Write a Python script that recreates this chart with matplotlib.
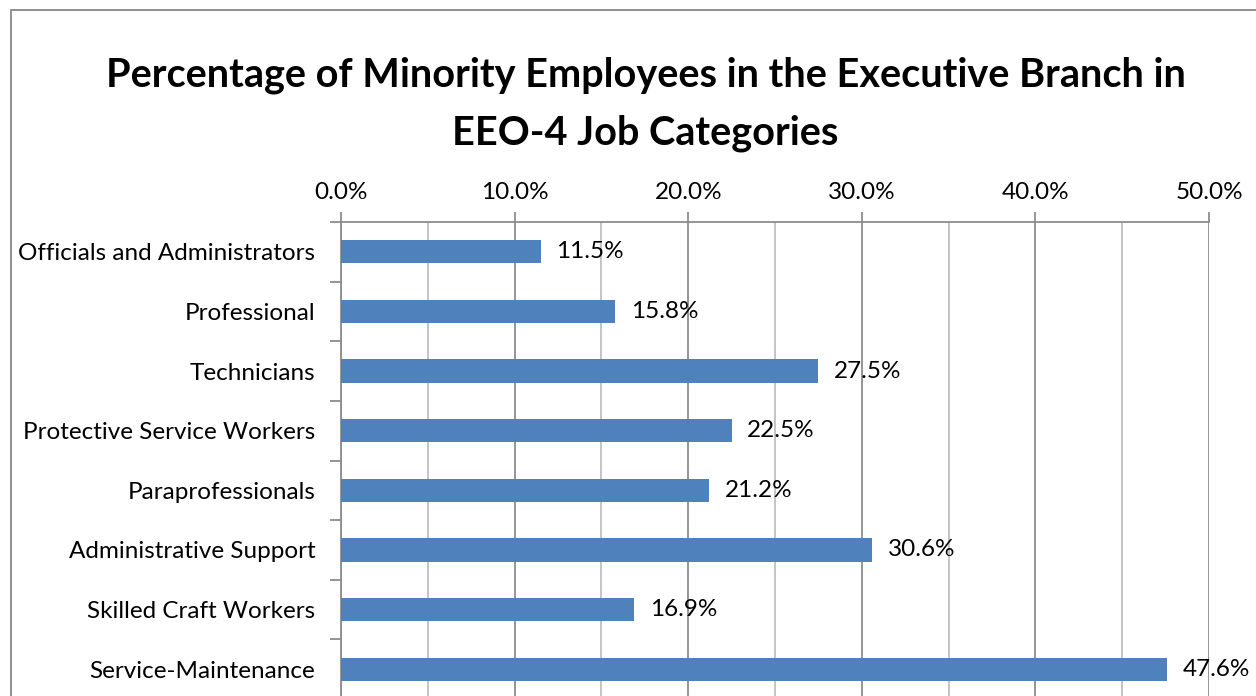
import matplotlib.pyplot as plt
from matplotlib.patches import Rectangle
from matplotlib.ticker import MultipleLocator, FuncFormatter

categories = [
    "Officials and Administrators",
    "Professional",
    "Technicians",
    "Protective Service Workers",
    "Paraprofessionals",
    "Administrative Support",
    "Skilled Craft Workers",
    "Service-Maintenance",
]
minority_pct = [11.5, 15.8, 27.5, 22.5, 21.2, 30.6, 16.9, 47.6]
title = "Percentage of Minority Employees in the Executive Branch in\nEEO-4 Job Categories"

plt.rcParams['font.family'] = ['Lato', 'DejaVu Sans']

W, H = 1256, 696
fig = plt.figure(figsize=(W / 100, H / 100), dpi=100)

# chart frame running off the right and bottom edge
fig.patches.append(Rectangle((11 / W, -0.1), 1.2, 1 - 10 / H + 0.1,
                             transform=fig.transFigure, fill=False,
                             edgecolor='#888888', linewidth=1.3))

left, right, top, bottom = 341, 1209, 222, 699
ax = fig.add_axes([left / W, 1 - bottom / H, (right - left) / W, (bottom - top) / H])

fs = 17.5
y = list(range(len(categories)))
ax.barh(y, minority_pct, height=0.39, color='#4F81BD', zorder=3)
for yi, v in zip(y, minority_pct):
    ax.text(v + 0.9, yi, f"{v:.1f}%", va='center', ha='left', fontsize=fs, zorder=4)

ax.set_xlim(0, 50)
ax.set_ylim(len(categories) - 0.5, -0.5)
ax.xaxis.tick_top()
ax.xaxis.set_major_locator(MultipleLocator(10))
ax.xaxis.set_minor_locator(MultipleLocator(5))
ax.xaxis.set_major_formatter(FuncFormatter(lambda x, p: f"{x:.1f}%"))
ax.grid(axis='x', which='major', color='#8c8c8c', linewidth=1.3, zorder=0)
ax.grid(axis='x', which='minor', color='#bfbfbf', linewidth=1.3, zorder=0)
ax.tick_params(axis='x', which='major', length=7, width=1.3, color='#8c8c8c',
               labelsize=fs, pad=7)
ax.tick_params(axis='x', which='minor', length=0)

ax.set_yticks(y)
ax.set_yticklabels(categories)
ax.set_yticks([i + 0.5 for i in range(-1, len(categories))], minor=True)
ax.tick_params(axis='y', which='major', length=0, labelsize=fs, pad=18.5)
ax.tick_params(axis='y', which='minor', length=8, width=1.3, color='#8c8c8c')

for s in ['right', 'bottom']:
    ax.spines[s].set_visible(False)
for s in ['top', 'left']:
    ax.spines[s].set_color('#8c8c8c')
    ax.spines[s].set_linewidth(1.3)

fig.text(0.514, 1 - 104 / H, title, ha='center', va='center', fontsize=28.5,
         fontweight='bold', linespacing=1.7)

fig.savefig('out.png', dpi=100)
